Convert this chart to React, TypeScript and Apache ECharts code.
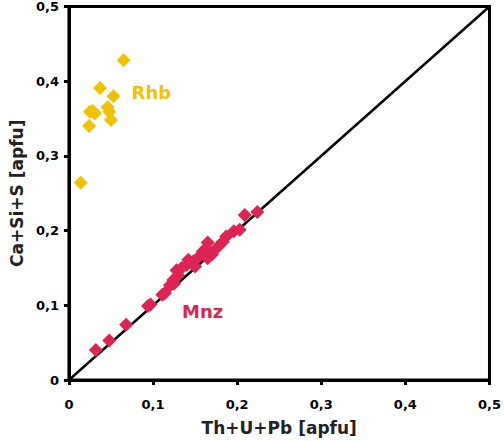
import React, { useEffect, useRef } from "react";
import * as echarts from "echarts";

const rhbX = [0.014, 0.024, 0.025, 0.031, 0.028, 0.037, 0.046, 0.048, 0.050, 0.053, 0.065];
const rhbY = [0.264, 0.340, 0.359, 0.357, 0.360, 0.391, 0.365, 0.359, 0.348, 0.380, 0.428];

const mnzX = [0.032, 0.048, 0.068, 0.094, 0.097, 0.111, 0.114, 0.120, 0.124, 0.125, 0.128, 0.130, 0.134, 0.140, 0.142, 0.148, 0.150, 0.153, 0.159, 0.163, 0.165, 0.165, 0.170, 0.177, 0.183, 0.187, 0.196, 0.203, 0.209, 0.224];
const mnzY = [0.040, 0.053, 0.074, 0.099, 0.101, 0.114, 0.116, 0.127, 0.134, 0.129, 0.147, 0.140, 0.150, 0.154, 0.161, 0.159, 0.152, 0.163, 0.172, 0.176, 0.184, 0.163, 0.168, 0.178, 0.185, 0.192, 0.199, 0.201, 0.221, 0.225];

const refLine = [[0, 0], [0.5, 0.5]];
const groupLabels = [
  { name: "Rhb", value: [0.098, 0.385], color: "#F2C200" },
  { name: "Mnz", value: [0.159, 0.092], color: "#DD2453" },
];

const FONT = "'DejaVu Sans', sans-serif";
const fmt = (v: number) => (v === 0 ? "0" : v.toFixed(1).replace(".", ","));

export default function App() {
  const ref = useRef<HTMLDivElement>(null);
  useEffect(() => {
    if (!ref.current) return;
    const chart = echarts.init(ref.current, undefined, { renderer: "svg" });
    const axisCommon = {
      min: 0,
      max: 0.5,
      interval: 0.1,
      splitLine: { show: false },
      axisLine: { show: true, lineStyle: { color: "#000", width: 3 } },
      axisTick: { show: true, length: 5, lineStyle: { color: "#000", width: 3 } },
      nameLocation: "middle" as const,
      nameTextStyle: { fontFamily: FONT, fontWeight: "bold" as const, fontSize: 17, color: "#222" },
    };
    chart.setOption({
      animation: false,
      backgroundColor: "#fff",
      grid: {
        left: 62,
        right: 14,
        top: 6,
        bottom: 61,
        show: true,
        borderColor: "#000",
        borderWidth: 3,
        backgroundColor: "transparent",
      },
      xAxis: {
        ...axisCommon,
        type: "value",
        name: "Th+U+Pb [apfu]",
        nameGap: 39,
        axisLabel: {
          margin: 18,
          fontFamily: FONT,
          fontWeight: "bold",
          fontSize: 13,
          color: "#000",
          formatter: fmt,
          showMaxLabel: true,
          showMinLabel: true,
        },
      },
      yAxis: {
        ...axisCommon,
        type: "value",
        name: "Ca+Si+S [apfu]",
        nameGap: 39,
        axisLabel: {
          margin: 10,
          fontFamily: FONT,
          fontWeight: "bold",
          fontSize: 13,
          color: "#000",
          formatter: fmt,
        },
      },
      series: [
        {
          type: "line",
          data: refLine,
          symbol: "none",
          lineStyle: { color: "#000", width: 2.5 },
          z: 1,
        },
        {
          type: "scatter",
          data: mnzX.map((x, i) => [x, mnzY[i]]),
          symbol: "diamond",
          symbolSize: 14,
          itemStyle: { color: "#DD2453", opacity: 1 },
          z: 3,
        },
        {
          type: "scatter",
          data: rhbX.map((x, i) => [x, rhbY[i]]),
          symbol: "diamond",
          symbolSize: 14,
          itemStyle: { color: "#F2C200", opacity: 1 },
          z: 3,
        },
        {
          type: "scatter",
          data: groupLabels.map((g) => ({
            name: g.name,
            value: g.value,
            label: { color: g.color },
          })),
          symbolSize: 1,
          itemStyle: { opacity: 0 },
          label: {
            show: true,
            position: "inside",
            formatter: "{b}",
            fontFamily: FONT,
            fontWeight: "bold",
            fontSize: 18,
            opacity: 1,
          },
          z: 4,
        },
      ],
    });
    return () => chart.dispose();
  }, []);
  return <div ref={ref} style={{ width: 504, height: 441, position: "absolute", left: 0, top: 0 }} />;
}
